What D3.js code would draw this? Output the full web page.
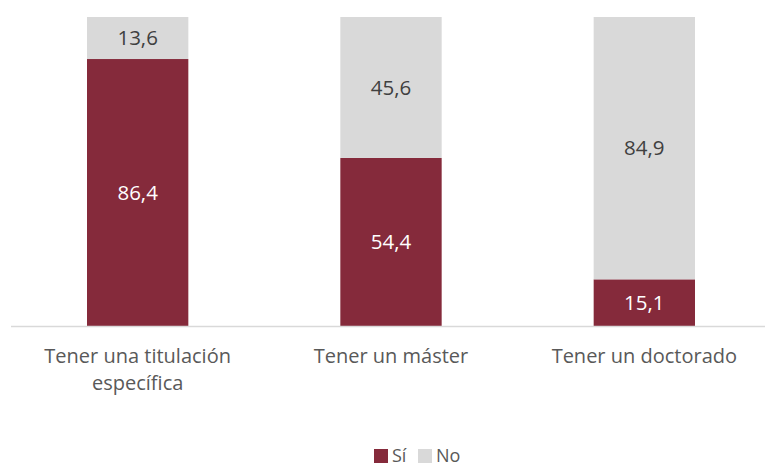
<!DOCTYPE html>
<html>
<head>
<meta charset="utf-8">
<script src="https://cdn.jsdelivr.net/npm/d3@7"></script>
<style>
  body { margin: 0; background: #fff; }
  text { font-family: "Open Sans", "Noto Sans", sans-serif; }
</style>
</head>
<body>
<div id="chart"></div>
<script>
const w = 765;
const h = 467;

// values
const categories = [['Tener una titulación', 'específica'], ['Tener un máster'], ['Tener un doctorado']];
const si = [86.4, 54.4, 15.1];
const no = [13.6, 45.6, 84.9];
const seriesNames = ['Sí', 'No'];
const colors = ['#852a3b', '#d9d9d9'];

const fmt = (v) => d3.format('.1f')(v).replace('.', ',');

const svg = d3.select('#chart').append('svg').attr('width', w).attr('height', h);

const xScale = d3
  .scaleBand()
  .domain(d3.range(categories.length))
  .range([11, 771])
  .paddingInner(0.6)
  .paddingOuter(0.3);

const yScale = d3.scaleLinear().domain([0, 100]).range([326, 17]);

const rows = categories.map((c, i) => ({ i, si: si[i], no: no[i] }));
const stack = d3.stack().keys(['si', 'no'])(rows);

const layers = svg
  .selectAll('g.layer')
  .data(stack)
  .enter()
  .append('g')
  .attr('fill', (d, k) => colors[k]);

layers
  .selectAll('rect')
  .data((d) => d)
  .enter()
  .append('rect')
  .attr('x', (d) => xScale(d.data.i))
  .attr('width', xScale.bandwidth())
  .attr('y', (d) => yScale(d[1]))
  .attr('height', (d) => yScale(d[0]) - yScale(d[1]));

layers
  .selectAll('text')
  .data((d, k) => d.map((p) => ({ p, k })))
  .enter()
  .append('text')
  .attr('x', (d) => xScale(d.p.data.i) + xScale.bandwidth() / 2)
  .attr('y', (d) => (yScale(d.p[0]) + yScale(d.p[1])) / 2)
  .attr('dy', '0.35em')
  .attr('text-anchor', 'middle')
  .attr('font-size', 20.5)
  .attr('fill', (d) => (d.k === 0 ? '#ffffff' : '#404040'))
  .text((d) => fmt(d.p[1] - d.p[0]));

// baseline
svg
  .append('line')
  .attr('x1', 11)
  .attr('x2', w)
  .attr('y1', 326.5)
  .attr('y2', 326.5)
  .attr('stroke', '#d9d9d9')
  .attr('stroke-width', 1.5);

// category labels
const cat = svg
  .selectAll('text.cat')
  .data(categories)
  .enter()
  .append('text')
  .attr('class', 'cat')
  .attr('text-anchor', 'middle')
  .attr('font-size', 20)
  .attr('fill', '#595959');

cat
  .selectAll('tspan')
  .data((d, i) => d.map((line) => ({ line, i })))
  .enter()
  .append('tspan')
  .attr('x', (d) => xScale(d.i) + xScale.bandwidth() / 2)
  .attr('y', (d, j) => 363 + j * 27)
  .text((d) => d.line);

// legend
const legend = svg.append('g').attr('transform', 'translate(374, 449)');
const items = legend
  .selectAll('g')
  .data(seriesNames)
  .enter()
  .append('g')
  .attr('transform', (d, i) => `translate(${i * 44}, 0)`);

items
  .append('rect')
  .attr('width', 14)
  .attr('height', 14)
  .attr('fill', (d, i) => colors[i]);

items
  .append('text')
  .attr('x', 18)
  .attr('y', 13)
  .attr('font-size', 18)
  .attr('fill', '#595959')
  .text((d) => d);
</script>
</body>
</html>
